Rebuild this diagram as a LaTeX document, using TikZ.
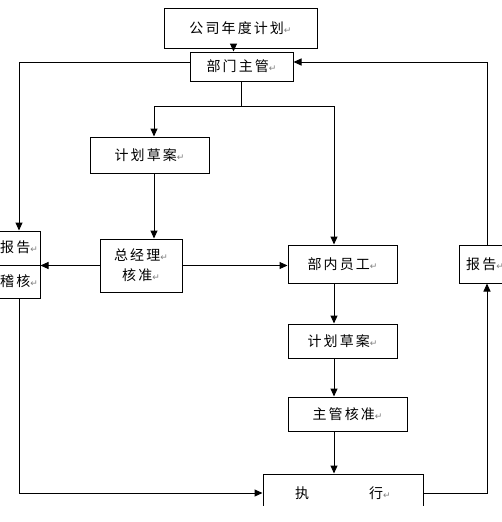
\documentclass[tikz,border=0pt]{standalone}
\usepackage{fontspec}
\usepackage{xcolor}
\usetikzlibrary{arrows.meta}
\newfontfamily\cjk[LetterSpace=15]{Noto Sans CJK SC}
\newfontfamily\markfont{DejaVu Sans}
\newcommand{\ret}{{\markfont\fontsize{9}{9}\selectfont\color{gray}↵}}

\begin{document}
\begin{tikzpicture}[x=1pt,y=-1pt,line width=1pt,
  box/.style={draw,inner sep=0pt,align=center,font=\cjk\fontsize{14}{20}\selectfont},
  arr/.style={-{Triangle[length=8pt,width=7pt]}}]
   \fill[white] (0,0) rectangle (502,522);
   \clip (0,0) rectangle (502,505);
   \node[box,minimum width=153,minimum height=40] (plan) at (240.5,28) {公司年度计划\ret};
   \node[box,minimum width=103,minimum height=29] (head) at (241.5,66.5) {部门主管\ret};
   \node[box,minimum width=119,minimum height=36] (draft1) at (149.5,155) {计划草案\ret};
   \node[box,minimum width=82,minimum height=53] (gm) at (141,265.5) {总经理\ret\\核准\ret};
   \node[box,minimum width=42,minimum height=67,font=\cjk\fontsize{14}{34}\selectfont] (rep1) at (19,264.5) {报告\ret\\稽核\ret};
   \node[box,minimum width=109,minimum height=38] (staff) at (342.5,264) {部内员工\ret};
   \node[box,minimum width=109,minimum height=34] (draft2) at (342.5,341) {计划草案\ret};
   \node[box,minimum width=119,minimum height=34] (approve) at (347.5,414) {主管核准\ret};
   \node[box,minimum width=160,minimum height=38] (exec) at (343,493) {执\hspace{60pt}行\ret};
   \node[box,minimum width=52,minimum height=38] (rep2) at (485,264) {报告\ret};
   \draw[arr] ([xshift=-7]plan.south) -- ([xshift=-7]plan.south |- head.north);
   \draw[arr] ([yshift=4.5]head.west) -| (rep1.north);
   \draw[arr] ([xshift=2]rep2.north) |- ([yshift=4.5]head.east);
   \draw (head.south) -- ++(0,25) coordinate (fork);
   \draw[arr] (fork) -| ([xshift=4.5]draft1.north);
   \draw[arr] (fork) -| ([xshift=-8.5]staff.north);
   \draw[arr] ([xshift=4.5]draft1.south) -- ([xshift=4.5]draft1.south |- gm.north);
   \draw[arr] (gm.west) -- (gm.west -| rep1.east);
   \draw (gm.west -| rep1.east) -- (gm.west -| rep1.west);
   \draw[arr] (gm.east) -- (gm.east -| staff.west);
   \draw[arr] ([xshift=-8.5]staff.south) -- ([xshift=-8.5]staff.south |- draft2.north);
   \draw[arr] ([xshift=-8.5]draft2.south) -- ([xshift=-8.5]draft2.south |- approve.north);
   \draw[arr] ([xshift=-13.5]approve.south) -- ([xshift=-13.5]approve.south |- exec.north);
   \draw[arr] (rep1.south) |- (exec.west);
   \draw[arr] (exec.east) -| ([xshift=2]rep2.south);
\end{tikzpicture}
\end{document}
